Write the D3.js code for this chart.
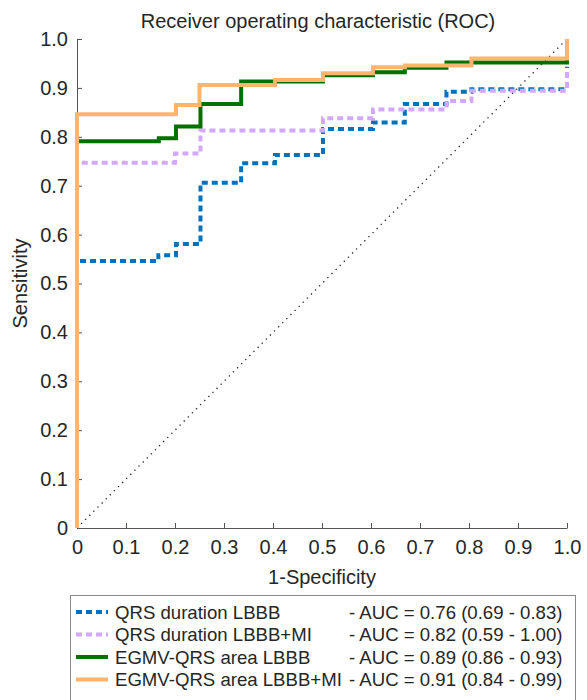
<!DOCTYPE html>
<html lang="en">
<head>
    <meta charset="UTF-8">
    <title>ROC</title>
    <script src="https://cdn.jsdelivr.net/npm/d3@7/dist/d3.min.js"></script>
    <style>
        body{margin:0;background:#fff;}
        text{font-family:"Liberation Sans",Arial,sans-serif;fill:#262626;}
    </style>
</head>
<body>
<script>
    // data (1-specificity / sensitivity, step corners)
    var qrsLbbbX=[0,0,0.166,0.202,0.252,0.335,0.404,0.502,0.604,0.669,0.754,0.805,1.0];
    var qrsLbbbY=[0,0.546,0.558,0.581,0.706,0.746,0.763,0.816,0.829,0.867,0.892,0.897,0.943];
    var qrsMiX=[0,0,0.2,0.252,0.502,0.604,0.754,0.805,1.0];
    var qrsMiY=[0,0.747,0.766,0.813,0.838,0.856,0.873,0.894,0.94];
    var egmLbbbX=[0,0,0.167,0.202,0.252,0.335,0.502,0.604,0.669,0.754,1.0,1.0];
    var egmLbbbY=[0,0.791,0.797,0.821,0.867,0.913,0.926,0.932,0.941,0.952,0.952,1.0];
    var egmMiX=[0,0,0.202,0.25,0.404,0.502,0.604,0.669,0.805,1.0];
    var egmMiY=[0,0.846,0.865,0.906,0.916,0.93,0.942,0.946,0.96,1.0];

    var seriesNames=["QRS duration LBBB","QRS duration LBBB+MI","EGMV-QRS area LBBB","EGMV-QRS area LBBB+MI"];
    var aucLabels=["- AUC = 0.76 (0.69 - 0.83)","- AUC = 0.82 (0.59 - 1.00)","- AUC = 0.89 (0.86 - 0.93)","- AUC = 0.91 (0.84 - 0.99)"];
    var tickValues=[0,0.1,0.2,0.3,0.4,0.5,0.6,0.7,0.8,0.9,1.0];
    var tickLabels=["0","0.1","0.2","0.3","0.4","0.5","0.6","0.7","0.8","0.9","1.0"];

    var colors=["#0072bd","#d3a8ff","#007000","#ffb56e"];
    var dashes=["6,4","6,4",null,null];
    var xsAll=[qrsLbbbX,qrsMiX,egmLbbbX,egmMiX];
    var ysAll=[qrsLbbbY,qrsMiY,egmLbbbY,egmMiY];

    var width=587,height=700;
    var padding={top:39,right:20,bottom:172,left:77};
    var plotW=490,plotH=489;

    var svg=d3.select("body")
        .append("svg")
        .attr("width",width)
        .attr("height",height);

    var xScale=d3.scaleLinear().domain([0,1]).range([0,plotW]);
    var yScale=d3.scaleLinear().domain([0,1]).range([plotH,0]);

    var g=svg.append("g").attr("transform","translate("+padding.left+","+padding.top+")");

    //坐标轴
    var xAxis=d3.axisBottom(xScale).tickValues(tickValues)
        .tickFormat(function(d,i){return tickLabels[i];})
        .tickSizeInner(-5).tickSizeOuter(0).tickPadding(12);
    var yAxis=d3.axisLeft(yScale).tickValues(tickValues)
        .tickFormat(function(d,i){return tickLabels[i];})
        .tickSizeInner(-5).tickSizeOuter(0).tickPadding(9);

    var gx=g.append("g").attr("transform","translate(0,"+plotH+")").call(xAxis);
    var gy=g.append("g").call(yAxis);
    [gx,gy].forEach(function(a){
        a.selectAll("path,line").attr("stroke","#555");
        a.selectAll("text").style("font-size","20px").attr("fill","#262626");
    });

    // 对角线
    g.append("line")
        .attr("x1",xScale(0)).attr("y1",yScale(0))
        .attr("x2",xScale(1)).attr("y2",yScale(1))
        .attr("stroke","#222").attr("stroke-width",1.3)
        .attr("stroke-dasharray","1.3,4.5");

    var line=d3.line()
        .x(function(d){return xScale(d[0]);})
        .y(function(d){return yScale(d[1]);})
        .curve(d3.curveStepAfter);

    xsAll.forEach(function(xs,i){
        var pts=xs.map(function(x,j){return [x,ysAll[i][j]];});
        g.append("path")
            .attr("d",line(pts))
            .attr("fill","none")
            .attr("stroke",colors[i])
            .attr("stroke-width",4)
            .attr("stroke-dasharray",dashes[i]);
    });

    // 标题和轴标签
    svg.append("text")
        .attr("x",padding.left+plotW/2-4).attr("y",28)
        .attr("text-anchor","middle").style("font-size","20px")
        .text("Receiver operating characteristic (ROC)");
    svg.append("text")
        .attr("x",padding.left+plotW/2).attr("y",584)
        .attr("text-anchor","middle").style("font-size","20px")
        .text("1-Specificity");
    svg.append("text")
        .attr("transform","translate(27,"+(padding.top+plotH/2)+") rotate(-90)")
        .attr("text-anchor","middle").style("font-size","20px")
        .text("Sensitivity");

    // 图例
    var legend=svg.append("g").attr("transform","translate(70,595)");
    legend.append("rect")
        .attr("x",0.5).attr("y",0.5).attr("width",505).attr("height",112)
        .attr("fill","#fff").attr("stroke","#888");
    var rows=legend.selectAll("g.row").data(seriesNames).enter().append("g")
        .attr("transform",function(d,i){return "translate(0,"+(17+i*22.5)+")";});
    rows.append("line")
        .attr("x1",6).attr("x2",38).attr("y1",0).attr("y2",0)
        .attr("stroke",function(d,i){return colors[i];})
        .attr("stroke-width",4)
        .attr("stroke-dasharray",function(d,i){return dashes[i];});
    rows.append("text")
        .attr("x",45).attr("dy","0.35em").style("font-size","18.6px")
        .text(function(d){return d;});
    rows.append("text")
        .attr("x",279).attr("dy","0.35em").style("font-size","18.6px")
        .text(function(d,i){return aucLabels[i];});
</script>
</body>
</html>
